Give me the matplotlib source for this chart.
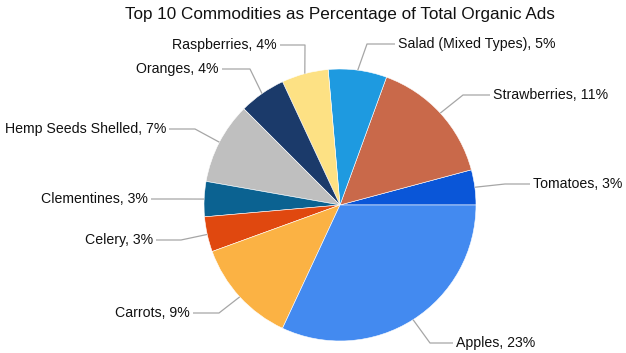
import matplotlib
matplotlib.use("Agg")
import matplotlib.pyplot as plt
import numpy as np

plt.rcParams['font.family'] = ['Liberation Sans', 'DejaVu Sans']

categories = ["Tomatoes", "Strawberries", "Salad (Mixed Types)", "Raspberries",
              "Oranges", "Hemp Seeds Shelled", "Clementines", "Celery",
              "Carrots", "Apples"]
percent = [3, 11, 5, 4, 4, 7, 3, 3, 9, 23]
colors = ["#0a56d8", "#c9694a", "#1e9ae0", "#fde184", "#1b3a6a",
          "#bfbfbf", "#0b6291", "#e0480f", "#fbb244", "#438af0"]
title = "Top 10 Commodities as Percentage of Total Organic Ads"

# layout (pixels): text anchor x, text y, elbow x, ha
label_layout = [
    (533, 184, 505, "left"),
    (493, 95, 463, "left"),
    (398, 44, 367, "left"),
    (277, 45, 305, "right"),
    (219, 69, 250, "right"),
    (166, 129, 195, "right"),
    (148, 199, 180, "right"),
    (153, 240, 181, "right"),
    (190, 313, 219, "right"),
    (456, 343, 430, "left"),
]

W, H = 626, 353
S = 136.0
CX, CY = 340.0, 205.0


def P(px, py):
    return ((px - CX) / S, (CY - py) / S)


fig = plt.figure(figsize=(W / 100, H / 100), dpi=100)
fig.patch.set_facecolor("white")
ax = fig.add_axes([0, 0, 1, 1])
wedges, _ = ax.pie(percent, colors=colors, startangle=0, counterclock=True,
                   radius=1.0, center=(0, 0),
                   wedgeprops=dict(linewidth=0.4, edgecolor="#ffffff"))
ax.set_xlim(P(0, 0)[0], P(W, 0)[0])
ax.set_ylim(P(0, H)[1], P(0, 0)[1])
ax.set_aspect("equal")
ax.axis("off")

for w, cat, pct, (tx, ty, ex, ha) in zip(wedges, categories, percent, label_layout):
    mid = np.deg2rad((w.theta1 + w.theta2) / 2)
    x0, y0 = np.cos(mid), np.sin(mid)
    xe, ye = P(ex, ty)
    gap = 3 if ha == "left" else -3
    xt, yt = P(tx - gap, ty)
    ax.plot([x0, xe, xt], [y0, ye, yt], color="#a6a6a6", lw=0.9,
            solid_capstyle="butt", zorder=1)
    lx, ly = P(tx, ty)
    ax.text(lx, ly, f"{cat}, {pct}%", ha=ha, va="center", fontsize=10.2,
            color="#111111")

tx, ty = P(340, 14)
ax.text(tx, ty, title, ha="center", va="center", fontsize=12.3, color="#111111")

fig.savefig("out.png", dpi=100, facecolor="white")
